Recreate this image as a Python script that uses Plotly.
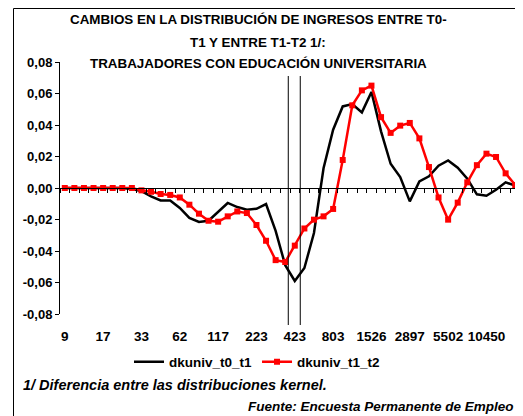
import plotly.graph_objects as go

# ---- data ----
tick_labels = ["9", "17", "33", "62", "117", "223", "423", "803", "1526", "2897", "5502", "10450"]
n_points = 48
categories = list(range(n_points))

dkuniv_t0_t1 = [0, 0, 0, 0, 0, 0, 0, -0.0006, -0.002, -0.0053, -0.0079, -0.008,
                -0.0127, -0.019, -0.0216, -0.0208, -0.0149, -0.0095, -0.0121, -0.0138,
                -0.0132, -0.0102, -0.0272, -0.049, -0.059, -0.0508, -0.0286, 0.0125,
                0.037, 0.0518, 0.0533, 0.048, 0.061, 0.036, 0.0154, 0.007,
                -0.0085, 0.0042, 0.0074, 0.0142, 0.0175, 0.0129, 0.0059, -0.004,
                -0.0049, -0.0011, 0.0036, 0.0015]

dkuniv_t1_t2 = [0, 0, 0, 0, 0, 0, 0, 0, -0.0015, -0.0024, -0.0038, -0.0044,
                -0.006, -0.0106, -0.0163, -0.0208, -0.0214, -0.018, -0.0149, -0.0159,
                -0.0235, -0.0335, -0.0458, -0.047, -0.0366, -0.0257, -0.0201, -0.018,
                -0.0133, 0.0178, 0.0525, 0.062, 0.065, 0.045, 0.035, 0.0396,
                0.0413, 0.0315, 0.0133, -0.006, -0.0201, -0.0093, 0.0036, 0.0145,
                0.0218, 0.0197, 0.0093, 0.0019]

y_ticks = [-0.08, -0.06, -0.04, -0.02, 0.0, 0.02, 0.04, 0.06, 0.08]
y_tick_text = ["-0,08", "-0,06", "-0,04", "-0,02", "0,00", "0,02", "0,04", "0,06", "0,08"]

vline_positions = [23.32, 24.57]

title_lines = ["CAMBIOS EN LA DISTRIBUCIÓN DE INGRESOS ENTRE T0-",
               "T1 Y ENTRE T1-T2 1/:",
               "TRABAJADORES CON EDUCACIÓN UNIVERSITARIA"]
note_text = "1/ Diferencia entre las distribuciones kernel."
source_text = "Fuente: Encuesta Permanente de Empleo"

# ---- figure geometry ----
FONT = "Liberation Sans"
OFF = 8                      # page body margin of the written html
W, H = 523 - OFF, 416 - OFF
ML, MR, MT, MB = 60 - OFF, 3, 62 - OFF, 102
PW = W - ML - MR
PH = H - MT - MB


def px_x(x):
    """page x pixel (reference) -> paper coordinate"""
    return (x - OFF - ML) / PW


def px_y(y):
    """page y pixel (reference) -> paper coordinate"""
    return (H - MB - (y - OFF)) / PH


fig = go.Figure()
fig.add_trace(go.Scatter(
    x=categories, y=dkuniv_t0_t1, name="dkuniv_t0_t1", mode="lines",
    line=dict(color="black", width=2.5), xaxis="x", yaxis="y"))
fig.add_trace(go.Scatter(
    x=categories, y=dkuniv_t1_t2, name="dkuniv_t1_t2", mode="lines+markers",
    line=dict(color="#ff0000", width=2.5),
    marker=dict(symbol="square", size=6, color="#ff0000"),
    xaxis="x2", yaxis="y"))

xr = [-0.5, n_points - 0.5]
fig.update_layout(
    width=W, height=H,
    margin=dict(l=ML, r=MR, t=MT, b=MB, autoexpand=False),
    paper_bgcolor="white", plot_bgcolor="white",
    font=dict(family=FONT, size=13, color="black", weight="bold"),
    xaxis=dict(range=xr, anchor="free", position=0.5, showline=True,
               linecolor="black", linewidth=1, ticks="outside", ticklen=4,
               tickcolor="black", tickwidth=1,
               tickvals=[i - 0.5 for i in range(n_points + 1)],
               showticklabels=False, showgrid=False, zeroline=False),
    xaxis2=dict(range=xr, overlaying="x", anchor="y", side="bottom",
                showline=False, ticks="", showgrid=False, zeroline=False,
                tickvals=categories[::4], ticktext=tick_labels,
                ticklabelstandoff=12,
                tickfont=dict(family=FONT, size=13.5, weight="bold")),
    yaxis=dict(range=[-0.08, 0.08], tickvals=y_ticks, ticktext=y_tick_text,
               showline=True, linecolor="black", linewidth=1, ticks="outside",
               ticklen=4, tickcolor="black", showgrid=False, zeroline=False,
               tickfont=dict(family=FONT, size=13, weight="bold")),
    showlegend=True,
    legend=dict(orientation="h", x=px_x(257), xanchor="center", y=px_y(362),
                yanchor="middle", font=dict(family=FONT, size=13.5, weight="bold"),
                bgcolor="rgba(0,0,0,0)", itemwidth=30, tracegroupgap=0),
)

# title lines
for txt, yc in zip(title_lines, [20, 42, 63]):
    fig.add_annotation(text=txt, x=px_x(258), y=px_y(yc), xref="paper", yref="paper",
                       xanchor="center", yanchor="middle", showarrow=False,
                       font=dict(family=FONT, size=13.4, weight="bold"))

fig.add_annotation(text="<i>" + note_text + "</i>", x=px_x(21), y=px_y(385),
                   xref="paper", yref="paper", xanchor="left", yanchor="middle",
                   showarrow=False, font=dict(family=FONT, size=14.5, weight="bold"))
fig.add_annotation(text="<i>" + source_text + "</i>", x=px_x(516), y=px_y(406),
                   xref="paper", yref="paper", xanchor="right", yanchor="middle",
                   showarrow=False, font=dict(family=FONT, size=13.5, weight="bold"))

# reference vertical lines
for xv in vline_positions:
    fig.add_shape(type="line", xref="x", yref="paper", x0=xv, x1=xv,
                  y0=px_y(76), y1=px_y(325), line=dict(color="black", width=1))

# chart border
fig.add_shape(type="rect", xref="paper", yref="paper",
              x0=px_x(13.5), x1=px_x(519), y0=px_y(8.5), y1=px_y(425),
              line=dict(color="black", width=1))
fig.add_shape(type="line", xref="paper", yref="paper",
              x0=px_x(520), x1=px_x(520), y0=px_y(9), y1=px_y(425),
              line=dict(color="black", width=1.5))

fig.write_html("out.html")
